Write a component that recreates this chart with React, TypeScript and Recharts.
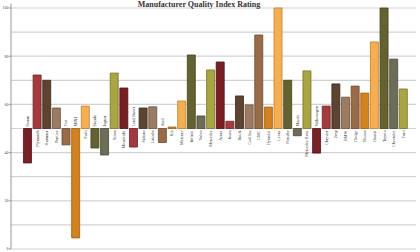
import React from 'react';
import { BarChart, Bar, XAxis, YAxis, CartesianGrid, Cell, LabelList } from 'recharts';

const brands = [
  'Saturn', 'Plymouth', 'Hummer', 'Pontiac', 'Fiat', 'MINI', 'Saab', 'Suzuki', 'Jaguar', 'Scion',
  'Mitsubishi', 'Land Rover', 'Subaru', 'Lincoln', 'Audi', 'Kia', 'Mercury', 'Infiniti', 'Volvo', 'Mercedes',
  'Acura', 'Isuzu', 'Buick', 'Cadillac', 'GMC', 'Hyundai', 'Lexus', 'Porsche', 'Mazda', 'Mercedes-Benz',
  'Volkswagen', 'Chrysler', 'Jeep', 'BMW', 'Dodge', 'Nissan', 'Honda', 'Toyota', 'Chevrolet', 'Ford',
];

const ratings = [
  35.7, 72.2, 70, 58.5, 43.2, 4.6, 59.3, 41.9, 39, 73,
  66.8, 42.3, 58.5, 59, 44.2, 50.6, 61.4, 80.5, 55.2, 74.3,
  77.6, 53, 63.5, 59.8, 88.8, 58.9, 100, 70, 47, 73.9,
  39.8, 59.3, 68.5, 63, 67.6, 64.7, 85.9, 100, 78.8, 66.4,
];

const yTicks = [0, 20, 40, 60, 80, 100];
const gridValues = [0, 10, 20, 30, 40, 50, 60, 70, 80, 90, 100];
const BASE = 50; // bars grow up or down from the 50 mark

const fills = ['#7b1f24', '#a6393c', '#5d4431', '#9c7b62', '#9b6b46', '#d5821c', '#f7ae50', '#64632f', '#6d6c55', '#a9a540'];
const strokes = ['#4e1216', '#6e2326', '#3b2a1e', '#6b5341', '#6b4a30', '#9c5e12', '#c27f2b', '#42411e', '#48473a', '#76732b'];

// Values are plotted relative to BASE; the axis labels add BASE back.
const data = brands.map((name, i) => ({ name, rel: ratings[i] - BASE, value: ratings[i] }));
const relTicks = yTicks.map((t) => t - BASE);
const relGrid = gridValues.map((t) => t - BASE);

const renderLabel = (props: any) => {
  const { x, y, width, height, index } = props;
  const v = ratings[index];
  const top = Math.min(y, y + height);
  const bottom = Math.max(y, y + height);
  const fs = 4.2;
  const cx = x + width / 2 + fs * 0.35;
  const up = v >= BASE;
  const ty = up ? bottom + 2 : top - 2;
  return (
    <text
      x={cx}
      y={ty}
      transform={`rotate(-90, ${cx}, ${ty})`}
      textAnchor={up ? 'end' : 'start'}
      fontSize={fs}
      fill="#333"
      fontFamily="Liberation Serif"
    >
      {brands[index] ?? ''}
    </text>
  );
};

export default function App() {
  return (
    <div style={{ position: 'absolute', left: 0, top: 0, width: 420, height: 252, background: '#fff' }}>
      <BarChart
        width={420}
        height={252}
        data={data}
        margin={{ top: 3.5, right: 4, bottom: 3, left: 0 }}
        barCategoryGap="10%"
      >
        <CartesianGrid vertical={false} horizontalValues={relGrid} stroke="#d2d2d2" strokeWidth={1.2} />
        <XAxis dataKey="name" hide padding={{ left: 11.5, right: 8 }} />
        <XAxis xAxisId="t" dataKey="name" orientation="top" height={0} tick={false} tickLine={false} axisLine={{ stroke: '#aaaaaa' }} />
        <YAxis
          domain={[-BASE, 100 - BASE]}
          ticks={relTicks}
          tickFormatter={(t: number) => String(t + BASE)}
          width={11}
          tickSize={2}
          tickMargin={0.5}
          padding={{ top: 4.5 }}
          axisLine={{ stroke: '#999999' }}
          tickLine={{ stroke: '#999999' }}
          tick={{ fontSize: 4, fill: '#444', fontFamily: 'Liberation Serif' }}
          interval={0}
        />
        <YAxis yAxisId="r" orientation="right" domain={[0, 100]} width={0} tick={false} tickLine={false} axisLine={{ stroke: '#aaaaaa' }} />
        <Bar dataKey="rel" isAnimationActive={false} strokeWidth={0.8}>
          {data.map((d, i) => (
            <Cell key={d.name} fill={fills[i % fills.length]} stroke={strokes[i % strokes.length]} />
          ))}
          <LabelList dataKey="value" content={renderLabel} />
        </Bar>
      </BarChart>
      <div
        style={{
          position: 'absolute',
          left: 0,
          top: 0.5,
          width: 398,
          textAlign: 'center',
          fontFamily: 'Liberation Serif',
          fontWeight: 'bold',
          fontSize: 8,
          lineHeight: '8px',
          color: '#333',
          whiteSpace: 'nowrap',
        }}
      >
        Manufacturer Quality Index Rating
      </div>
    </div>
  );
}
